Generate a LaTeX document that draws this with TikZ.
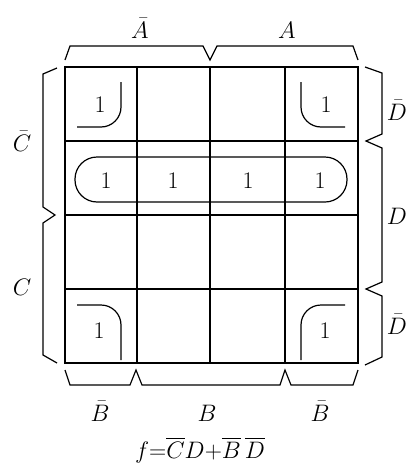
\documentclass[tikz,border=0pt]{standalone}
\usepackage{amsmath,amssymb}
\usepackage{tikz}

\begin{document}
\begin{tikzpicture}[x=1pt, y=-1pt, every node/.style={font=\huge, scale=1.15, inner sep=0pt}, grid/.style={line width=1.6pt}, brace/.style={line width=1.2pt}, ring/.style={line width=1.2pt, rounded corners=20pt}]
	\useasboundingbox (0,0) rectangle (408,472);
	% map
	\draw[grid] (65,67) rectangle (358,363);
	\foreach \x in {137,210,285} \draw[grid] (\x,67) -- (\x,363);
	\foreach \y in {141,215,289} \draw[grid] (65,\y) -- (358,\y);
	% ones
	\node (m0) at (100,105) {$1$};
	\node (m8) at (326,105) {$1$};
	\node (m1) at (106,181) {$1$};
	\node (m5) at (173,181) {$1$};
	\node (m13) at (248,181) {$1$};
	\node (m9) at (320,181) {$1$};
	\node (m2) at (99,331) {$1$};
	\node (m10) at (325,331) {$1$};
	% groups
	\draw[ring] (121,82) -- (121,127) -- (77,127);
	\draw[ring] (301,82) -- (301,127) -- (345,127);
	\draw[ring] (77,305) -- (121,305) -- (121,360);
	\draw[ring] (345,305) -- (301,305) -- (301,360);
	\draw[brace, rounded corners=22pt] (75,157) rectangle (347,202);
	% braces
	\draw[brace] (65,60) -- (70,46) -- (203,46) -- (210,60) -- (217,46) -- (353,46) -- (358,60);
	\draw[brace] (57,68) -- (43,74) -- (43,207) -- (55,215) -- (43,223) -- (43,355) -- (57,363);
	\draw[brace] (365,67) -- (382,73) -- (382,134) -- (366,141) -- (382,148) -- (382,282) -- (366,289) -- (382,296) -- (382,357) -- (365,365);
	\draw[brace] (65,370) -- (70,385) -- (130,385) -- (136,370) -- (142,385) -- (280,385) -- (285,370) -- (291,385) -- (353,385) -- (358,370);
	% labels
	\node[anchor=base] (na) at (140,38) {$\bar{A}$};
	\node[anchor=base] (pa) at (287,38) {$A$};
	\node[anchor=base] (nc) at (22,151) {$\bar{C}$};
	\node[anchor=base] (pc) at (22,295) {$C$};
	\node[anchor=base] (nd1) at (397,120) {$\bar{D}$};
	\node[anchor=base] (pd) at (397,224) {$D$};
	\node[anchor=base] (nd2) at (397,334) {$\bar{D}$};
	\node[anchor=base] (nb1) at (100,421) {$\bar{B}$};
	\node[anchor=base] (pb) at (207,421) {$B$};
	\node[anchor=base] (nb2) at (320,421) {$\bar{B}$};
	\node[anchor=base] (f) at (200,458) {$f{=}\overline{C}D{+}\overline{B}\,\overline{D}$};
\end{tikzpicture}
\end{document}
